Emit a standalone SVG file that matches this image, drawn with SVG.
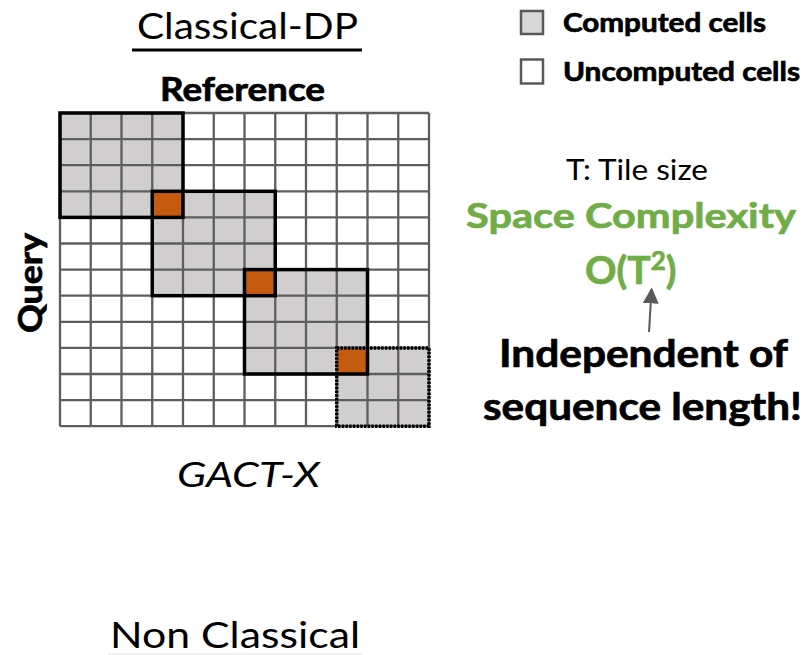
<svg xmlns="http://www.w3.org/2000/svg" width="807" height="655" viewBox="0 0 807 655">
  <style>
    text { font-family: Lato, "Open Sans", "Liberation Sans", sans-serif; fill: #000; }
    .b { font-weight: bold; stroke: #000; stroke-width: 0.7; }
    .green { fill: #70ad47; stroke: #70ad47; }
    .grid { fill: none; stroke: #5e5e5e; stroke-width: 2.3; }
    .done { fill: #d0cece; }
    .seed { fill: #c55a11; }
    .tile { fill: none; stroke: #000; stroke-width: 3.5; }
    .tile-open { fill: none; stroke: #000; stroke-width: 3.5; stroke-dasharray: 2.5 1.2; }
    .key { stroke: #595959; stroke-width: 2.5; }
  </style>
  <defs>
    <marker id="head" viewBox="0 0 10 10" refX="9" refY="5" markerWidth="16" markerHeight="16" markerUnits="userSpaceOnUse" orient="auto">
      <path d="M0 0 L10 5 L0 10 Z" fill="#595959"/>
    </marker>
  </defs>
  <rect width="807" height="655" fill="#fff"/>

  <!-- title -->
  <g id="title">
    <text x="137" y="38.5" font-size="36" textLength="221" lengthAdjust="spacingAndGlyphs">Classical-DP</text>
    <rect x="132" y="48.5" width="230" height="3" fill="#000"/>
  </g>

  <!-- axis labels -->
  <g id="axis-reference">
    <text class="b" x="160" y="101" font-size="32" textLength="165" lengthAdjust="spacingAndGlyphs">Reference</text>
  </g>
  <g id="axis-query">
    <text class="b" transform="translate(42 283) rotate(-90)" text-anchor="middle" font-size="32" textLength="100" lengthAdjust="spacingAndGlyphs">Query</text>
  </g>

  <!-- DP matrix: 12 x 12 cells -->
  <g id="matrix">
    <rect x="60" y="113" width="369" height="313.2" fill="#fff"/>
    <g id="tile-1">
      <rect class="done" x="60" y="113" width="123" height="104.4"/>
    </g>
    <g id="tile-2">
      <rect class="done" x="152.25" y="191.3" width="123" height="104.4"/>
    </g>
    <g id="tile-3">
      <rect class="done" x="244.5" y="269.6" width="123" height="104.4"/>
    </g>
    <g id="tile-4">
      <rect class="done" x="336.75" y="347.9" width="92.25" height="78.3"/>
    </g>
    <rect class="seed" x="152.25" y="191.3" width="30.75" height="26.1"/>
    <rect class="seed" x="244.5" y="269.6" width="30.75" height="26.1"/>
    <rect class="seed" x="336.75" y="347.9" width="30.75" height="26.1"/>
    <path class="grid" d="M60 113V426.2M90.75 113V426.2M121.5 113V426.2M152.25 113V426.2M183 113V426.2M213.75 113V426.2M244.5 113V426.2M275.25 113V426.2M306 113V426.2M336.75 113V426.2M367.5 113V426.2M398.25 113V426.2M429 113V426.2
      M60 113H429M60 139.1H429M60 165.2H429M60 191.3H429M60 217.4H429M60 243.5H429M60 269.6H429M60 295.7H429M60 321.8H429M60 347.9H429M60 374H429M60 400.1H429M60 426.2H429"/>
    <rect class="tile-open" x="336.75" y="347.9" width="92.25" height="78.3"/>
    <rect class="tile" x="60" y="113" width="123" height="104.4"/>
    <rect class="tile" x="152.25" y="191.3" width="123" height="104.4"/>
    <rect class="tile" x="244.5" y="269.6" width="123" height="104.4"/>
  </g>

  <!-- legend -->
  <g id="legend-computed">
    <rect class="key" x="521" y="11" width="22" height="23" fill="#d9d9d9"/>
    <text class="b" x="563" y="32" font-size="26" textLength="203" lengthAdjust="spacingAndGlyphs">Computed cells</text>
  </g>
  <g id="legend-uncomputed">
    <rect class="key" x="521" y="59.5" width="22" height="24" fill="#fff"/>
    <text class="b" x="563" y="81" font-size="26" textLength="237" lengthAdjust="spacingAndGlyphs">Uncomputed cells</text>
  </g>

  <!-- complexity note -->
  <g id="tile-size">
    <text x="566" y="180" font-size="28" textLength="142" lengthAdjust="spacingAndGlyphs">T: Tile size</text>
  </g>
  <g id="complexity">
    <text class="b green" x="466" y="228" font-size="35" textLength="330" lengthAdjust="spacingAndGlyphs">Space Complexity</text>
    <text class="b green" x="585" y="284" font-size="39">O(T<tspan font-size="26" dy="-14">2</tspan><tspan dy="14">)</tspan></text>
  </g>
  <g id="independence">
    <text class="b" x="499" y="367" font-size="38" textLength="289" lengthAdjust="spacingAndGlyphs">Independent of</text>
    <text class="b" x="483" y="420" font-size="38" textLength="319" lengthAdjust="spacingAndGlyphs">sequence length!</text>
  </g>

  <!-- connectors -->
  <g id="connectors">
    <line x1="649" y1="332" x2="651.6" y2="289" stroke="#595959" stroke-width="2" marker-end="url(#head)"/>
  </g>

  <!-- captions -->
  <g id="caption-gactx">
    <text x="177" y="487" font-size="34" font-style="italic" textLength="143" lengthAdjust="spacingAndGlyphs">GACT-X</text>
  </g>
  <g id="caption-nonclassical">
    <text x="110" y="648" font-size="37" textLength="250" lengthAdjust="spacingAndGlyphs">Non Classical</text>
    <rect x="108" y="653.5" width="254" height="1.5" fill="#ececec"/>
  </g>
</svg>
